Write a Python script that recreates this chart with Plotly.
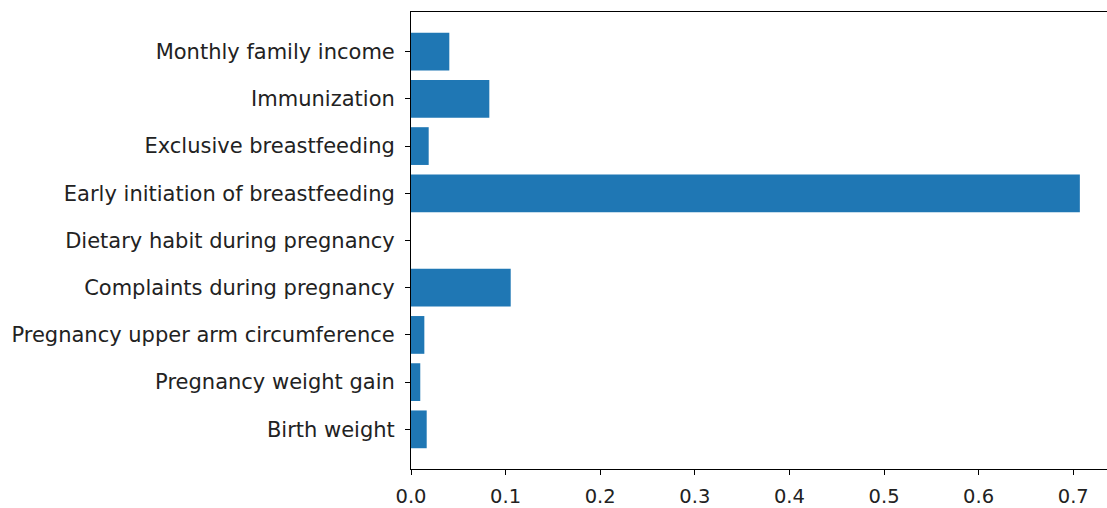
import plotly.graph_objects as go

features = [
    "Birth weight",
    "Pregnancy weight gain",
    "Pregnancy upper arm circumference",
    "Complaints during pregnancy",
    "Dietary habit during pregnancy",
    "Early initiation of breastfeeding",
    "Exclusive breastfeeding",
    "Immunization",
    "Monthly family income",
]
importance = [0.0166, 0.0098, 0.0141, 0.1054, 0.0, 0.707, 0.0187, 0.0828, 0.0405]
x_ticks = [0.0, 0.1, 0.2, 0.3, 0.4, 0.5, 0.6, 0.7]

fig = go.Figure(
    go.Bar(
        x=importance,
        y=list(range(len(features))),
        orientation="h",
        width=0.8,
        marker=dict(color="#1f77b4", line=dict(width=0)),
    )
)

fig.update_layout(
    width=1107,
    height=508,
    margin=dict(l=411, r=0, t=12, b=37),
    paper_bgcolor="white",
    plot_bgcolor="white",
    font=dict(family="DejaVu Sans", color="#222222"),
    showlegend=False,
)
fig.update_xaxes(
    range=[0, 0.7357],
    tickvals=x_ticks,
    tickformat=".1f",
    showgrid=False,
    zeroline=False,
    showline=True,
    linecolor="black",
    linewidth=1,
    mirror=True,
    ticks="outside",
    ticklen=5,
    tickcolor="black",
    tickfont=dict(size=19.5),
    ticklabelstandoff=5,
)
fig.update_yaxes(
    range=[-0.84, 8.84],
    tickvals=list(range(len(features))),
    ticktext=features,
    showgrid=False,
    zeroline=False,
    showline=True,
    linecolor="black",
    linewidth=1,
    mirror=False,
    ticks="outside",
    ticklen=5,
    tickcolor="black",
    tickfont=dict(size=21),
    ticklabelstandoff=6,
)

fig.write_html("out.html")
